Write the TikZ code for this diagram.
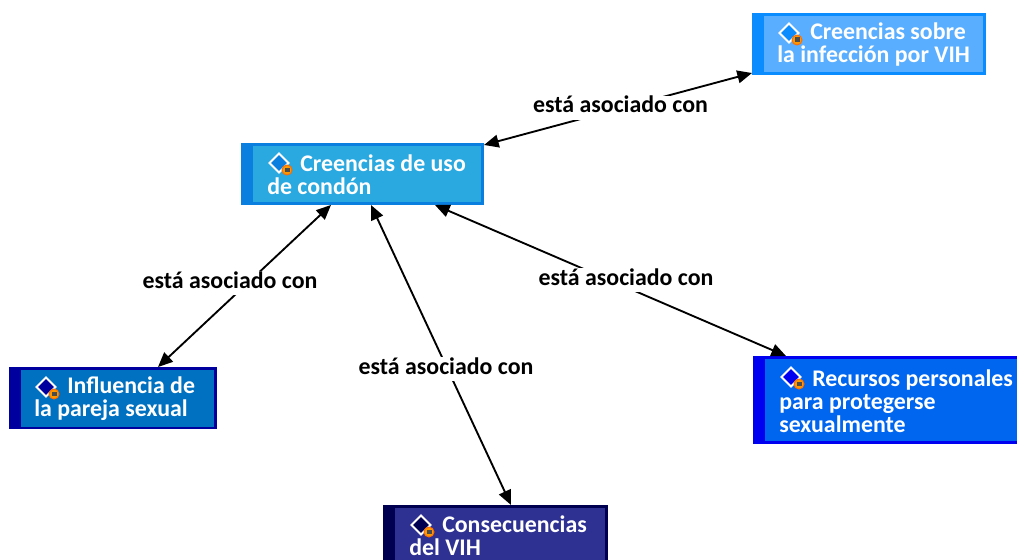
\documentclass[tikz,border=0pt]{standalone}
\usepackage{fontspec}
\setmainfont{Carlito}
\usetikzlibrary{arrows.meta}
\tikzset{
  x=0.75pt,y=-0.75pt,
  conn/.style={line width=1.4pt,{Triangle[length=11pt,width=9.5pt]}-{Triangle[length=11pt,width=9.5pt]},black},
  linklabel/.style={fill=white,anchor=base,inner xsep=1pt,inner ysep=0pt,text height=12.75pt,text depth=5.25pt,font=\bfseries\fontsize{17.9pt}{19pt}\selectfont,text=black},
  boxtext/.style={anchor=north west,inner sep=0pt,align=left,text=white,font=\bfseries\fontsize{17.9pt}{17.6pt}\selectfont},
}
\newcommand{\conceptbox}[9]{%
  \fill[#6] (#2,#3) rectangle (#4,#5);
  \fill[#7] ({#2+12},{#3+3}) rectangle (#8,#9);
  \coordinate (#1) at (#2,#3);
}
\newcommand{\conceptmark}[3]{%
  \filldraw[fill=#3,draw=white,line width=1.5pt] (#1,{#2-9.5}) -- ({#1+9.5},#2) -- (#1,{#2+9.5}) -- ({#1-9.5},#2) -- cycle;
  \filldraw[fill=orange!80!yellow,draw=orange!85!red,line width=0.7pt] ({#1+8},{#2+7}) circle (5);
  \fill[black!70] ({#1+5.5},{#2+4.5}) rectangle ({#1+10.5},{#2+9});
}
\begin{document}
\begin{tikzpicture}
\useasboundingbox (0,0) rectangle (1017,560);
\definecolor{bOne}{HTML}{0A8CFF}\definecolor{fOne}{HTML}{5AAEFF}
\definecolor{bTwo}{HTML}{0A7FE0}\definecolor{fTwo}{HTML}{2AA8E0}
\definecolor{bThree}{HTML}{00009E}\definecolor{fThree}{HTML}{0070C0}
\definecolor{bFour}{HTML}{0000F0}\definecolor{fFour}{HTML}{0066F0}
\definecolor{bFive}{HTML}{000050}\definecolor{fFive}{HTML}{2E3092}

\conceptbox{cA}{752}{13}{986}{75}{bOne}{fOne}{983}{72}
\conceptbox{cB}{241}{143}{484}{205}{bTwo}{fTwo}{481}{202}
\conceptbox{cC}{9}{367}{217}{429}{bThree}{fThree}{214}{427}
\conceptbox{cD}{753}{356}{1017}{444}{bFour}{fFour}{1017}{441}
\conceptbox{cE}{383}{505}{608}{560}{bFive}{fFive}{605}{560}

\conceptmark{789}{33}{bOne}
\conceptmark{279}{163}{bTwo}
\conceptmark{46}{387}{bThree}
\conceptmark{791}{377}{bFour}
\conceptmark{421}{525}{bFive}

\node[boxtext] (tA) at (777,22) {\hspace*{24.75pt}Creencias sobre\\la infección por VIH};
\node[boxtext] (tB) at (267,154) {\hspace*{24.75pt}Creencias de uso\\de condón};
\node[boxtext] (tC) at (34,376.5) {\hspace*{24.75pt}Influencia de\\la pareja sexual};
\node[boxtext] (tD) at (779,369) {\hspace*{24.75pt}Recursos personales\\para protegerse\\sexualmente};
\node[boxtext] (tE) at (409,515) {\hspace*{24.75pt}Consecuencias\\del VIH};

\coordinate (pAB) at (752,73);
\coordinate (pBA) at (484,145);
\coordinate (pBC) at (331,205);
\coordinate (pCB) at (158,367);
\coordinate (pBE) at (371,205);
\coordinate (pEB) at (511,505);
\coordinate (pBD) at (435,205);
\coordinate (pDB) at (786,356);

\draw[conn] (pBA) -- (pAB);
\draw[conn] (pBC) -- (pCB);
\draw[conn] (pBE) -- (pEB);
\draw[conn] (pBD) -- (pDB);
\node[linklabel] (lA) at (620.5,113) {está asociado con};
\node[linklabel] (lC) at (230,288) {está asociado con};
\node[linklabel] (lE) at (446,374) {está asociado con};
\node[linklabel] (lD) at (626,285) {está asociado con};
\end{tikzpicture}
\end{document}
